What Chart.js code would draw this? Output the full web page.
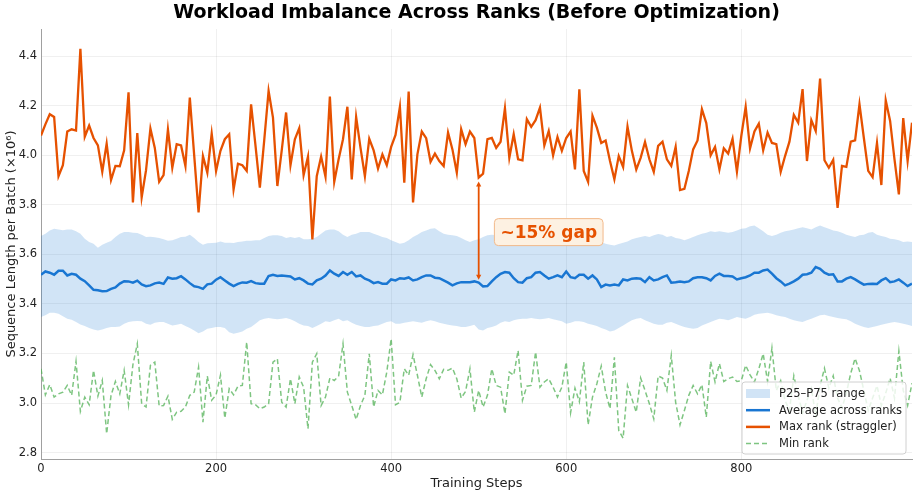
<!DOCTYPE html>
<html>
<head>
<meta charset="utf-8">
<title>Workload Imbalance Across Ranks</title>
<script src="https://cdn.jsdelivr.net/npm/chart.js@4.4.1/dist/chart.umd.min.js"></script>
<style>
  html, body { margin: 0; padding: 0; background: #fff; }
  #wrap { width: 915px; height: 493px; }
</style>
</head>
<body>
<div id="wrap"><canvas id="chart" width="915" height="493"></canvas></div>
<script>
// values, one sample every 5 training steps (0..995)
const maxRank = [
  4.080, 4.125, 4.166, 4.155, 3.916, 3.960, 4.096, 4.105, 4.100, 4.430,
  4.075, 4.120, 4.070, 4.040, 3.934, 4.047, 3.900, 3.957, 3.956, 4.020,
  4.254, 3.810, 4.090, 3.830, 3.940, 4.108, 4.030, 3.893, 3.920, 4.104,
  3.950, 4.045, 4.040, 3.957, 4.233, 4.000, 3.770, 3.997, 3.930, 4.088,
  3.937, 4.018, 4.065, 4.085, 3.862, 3.966, 3.960, 3.937, 4.206, 4.040,
  3.870, 4.060, 4.260, 4.152, 3.876, 4.020, 4.173, 3.960, 4.065, 4.110,
  3.920, 3.995, 3.660, 3.916, 3.995, 3.914, 4.237, 3.893, 3.984, 4.065,
  4.196, 3.903, 4.155, 4.030, 3.916, 4.067, 4.020, 3.946, 4.004, 3.960,
  4.034, 4.082, 4.196, 3.890, 4.257, 3.810, 4.004, 4.096, 4.069, 3.974,
  4.007, 3.977, 3.957, 4.092, 4.024, 3.930, 4.105, 4.045, 4.096, 4.070,
  3.910, 3.926, 4.065, 4.070, 4.030, 4.055, 4.190, 3.990, 4.085, 3.984,
  3.980, 4.146, 4.115, 4.142, 4.193, 4.040, 4.098, 4.000, 4.074, 4.018,
  4.070, 4.096, 3.943, 4.267, 3.937, 3.893, 4.160, 4.112, 4.050, 4.060,
  3.977, 3.903, 3.997, 3.953, 4.116, 4.018, 3.943, 3.990, 4.054, 3.984,
  3.933, 4.038, 4.055, 3.984, 3.957, 4.034, 3.860, 3.865, 3.937, 4.024,
  4.060, 4.186, 4.130, 4.000, 4.034, 3.943, 4.028, 4.007, 4.067, 3.934,
  4.078, 4.196, 4.028, 4.096, 4.128, 4.020, 4.092, 4.050, 4.045, 3.933,
  3.997, 4.055, 4.163, 4.132, 4.267, 3.977, 4.142, 4.098, 4.310, 3.980,
  3.950, 3.982, 3.788, 3.957, 3.953, 4.055, 4.060, 4.206, 4.070, 3.937,
  3.912, 4.050, 3.880, 4.222, 4.139, 3.984, 3.842, 4.150, 3.977, 4.132
];
const avgRank = [
  3.518, 3.531, 3.526, 3.518, 3.534, 3.534, 3.515, 3.522, 3.518, 3.502,
  3.492, 3.475, 3.457, 3.455, 3.451, 3.452, 3.461, 3.467, 3.482, 3.492,
  3.491, 3.486, 3.494, 3.479, 3.472, 3.475, 3.483, 3.486, 3.481, 3.507,
  3.502, 3.504, 3.512, 3.499, 3.484, 3.471, 3.468, 3.461, 3.479, 3.482,
  3.498, 3.508, 3.495, 3.482, 3.472, 3.481, 3.487, 3.486, 3.492, 3.484,
  3.482, 3.482, 3.513, 3.518, 3.513, 3.515, 3.513, 3.511, 3.499, 3.504,
  3.495, 3.482, 3.479, 3.495, 3.502, 3.515, 3.535, 3.522, 3.513, 3.529,
  3.518, 3.529, 3.511, 3.515, 3.502, 3.495, 3.484, 3.488, 3.482, 3.482,
  3.499, 3.495, 3.504, 3.502, 3.507, 3.495, 3.499, 3.508, 3.515, 3.515,
  3.506, 3.504, 3.495, 3.486, 3.475, 3.483, 3.488, 3.488, 3.488, 3.491,
  3.486, 3.471, 3.472, 3.491, 3.508, 3.522, 3.529, 3.526, 3.504, 3.488,
  3.486, 3.504, 3.508, 3.526, 3.529, 3.515, 3.502, 3.508, 3.515, 3.508,
  3.531, 3.508, 3.504, 3.518, 3.518, 3.502, 3.515, 3.499, 3.468, 3.478,
  3.475, 3.478, 3.475, 3.499, 3.495, 3.502, 3.504, 3.502, 3.488, 3.508,
  3.495, 3.499, 3.508, 3.515, 3.486, 3.488, 3.491, 3.488, 3.491, 3.504,
  3.508, 3.508, 3.504, 3.495, 3.513, 3.522, 3.513, 3.513, 3.511, 3.499,
  3.504, 3.508, 3.515, 3.526, 3.526, 3.535, 3.539, 3.522, 3.504, 3.491,
  3.475, 3.482, 3.491, 3.502, 3.518, 3.520, 3.526, 3.549, 3.542, 3.526,
  3.518, 3.520, 3.491, 3.491, 3.502, 3.508, 3.499, 3.488, 3.478, 3.481,
  3.482, 3.481, 3.495, 3.504, 3.488, 3.491, 3.499, 3.486, 3.472, 3.482
];
const p75Rank = [
  3.674, 3.683, 3.697, 3.704, 3.701, 3.698, 3.701, 3.701, 3.693, 3.683,
  3.663, 3.650, 3.643, 3.627, 3.639, 3.647, 3.654, 3.670, 3.683, 3.690,
  3.690, 3.687, 3.686, 3.679, 3.670, 3.671, 3.669, 3.666, 3.661, 3.655,
  3.657, 3.663, 3.670, 3.671, 3.679, 3.666, 3.650, 3.639, 3.645, 3.646,
  3.647, 3.652, 3.647, 3.647, 3.646, 3.650, 3.652, 3.655, 3.655, 3.657,
  3.657, 3.666, 3.674, 3.677, 3.677, 3.674, 3.666, 3.670, 3.666, 3.670,
  3.661, 3.661, 3.663, 3.670, 3.683, 3.697, 3.701, 3.701, 3.693, 3.679,
  3.670, 3.679, 3.683, 3.690, 3.690, 3.690, 3.683, 3.677, 3.670, 3.666,
  3.657, 3.650, 3.643, 3.647, 3.657, 3.670, 3.679, 3.690, 3.697, 3.704,
  3.706, 3.693, 3.683, 3.679, 3.677, 3.674, 3.666, 3.657, 3.650, 3.657,
  3.661, 3.670, 3.677, 3.679, 3.677, 3.670, 3.663, 3.661, 3.666, 3.670,
  3.677, 3.679, 3.674, 3.670, 3.663, 3.666, 3.674, 3.679, 3.677, 3.670,
  3.666, 3.663, 3.666, 3.670, 3.674, 3.670, 3.663, 3.657, 3.650, 3.643,
  3.639, 3.636, 3.642, 3.647, 3.652, 3.661, 3.666, 3.670, 3.674, 3.670,
  3.677, 3.682, 3.679, 3.670, 3.674, 3.666, 3.663, 3.657, 3.663, 3.670,
  3.677, 3.683, 3.687, 3.693, 3.690, 3.693, 3.690, 3.687, 3.690, 3.697,
  3.704, 3.706, 3.714, 3.717, 3.706, 3.693, 3.679, 3.674, 3.679, 3.687,
  3.693, 3.697, 3.701, 3.706, 3.710, 3.706, 3.701, 3.710, 3.717, 3.710,
  3.704, 3.697, 3.693, 3.687, 3.679, 3.674, 3.670, 3.677, 3.679, 3.687,
  3.690, 3.679, 3.674, 3.670, 3.663, 3.661, 3.657, 3.650, 3.652, 3.650
];
const p25Rank = [
  3.347, 3.354, 3.364, 3.364, 3.360, 3.350, 3.340, 3.336, 3.327, 3.317,
  3.311, 3.303, 3.297, 3.293, 3.297, 3.303, 3.307, 3.307, 3.309, 3.320,
  3.327, 3.330, 3.331, 3.330, 3.320, 3.316, 3.324, 3.327, 3.327, 3.320,
  3.313, 3.316, 3.320, 3.311, 3.303, 3.293, 3.282, 3.289, 3.300, 3.303,
  3.307, 3.307, 3.303, 3.286, 3.280, 3.284, 3.289, 3.300, 3.307, 3.320,
  3.334, 3.340, 3.343, 3.340, 3.338, 3.340, 3.343, 3.338, 3.330, 3.320,
  3.313, 3.311, 3.303, 3.311, 3.320, 3.330, 3.327, 3.334, 3.340, 3.330,
  3.334, 3.324, 3.316, 3.311, 3.307, 3.307, 3.311, 3.313, 3.320, 3.327,
  3.330, 3.320, 3.320, 3.324, 3.327, 3.330, 3.327, 3.324, 3.330, 3.334,
  3.330, 3.324, 3.320, 3.316, 3.313, 3.311, 3.307, 3.307, 3.311, 3.316,
  3.297, 3.293, 3.303, 3.307, 3.313, 3.324, 3.330, 3.327, 3.334, 3.338,
  3.340, 3.340, 3.343, 3.340, 3.338, 3.340, 3.343, 3.338, 3.334, 3.330,
  3.320, 3.324, 3.330, 3.330, 3.327, 3.320, 3.316, 3.311, 3.303, 3.297,
  3.289, 3.293, 3.303, 3.313, 3.324, 3.334, 3.340, 3.343, 3.334, 3.327,
  3.320, 3.316, 3.316, 3.324, 3.327, 3.320, 3.313, 3.307, 3.303, 3.300,
  3.303, 3.313, 3.320, 3.327, 3.334, 3.340, 3.338, 3.334, 3.340, 3.347,
  3.343, 3.340, 3.347, 3.356, 3.360, 3.362, 3.364, 3.360, 3.354, 3.350,
  3.347, 3.340, 3.334, 3.330, 3.327, 3.334, 3.340, 3.347, 3.354, 3.356,
  3.351, 3.347, 3.343, 3.340, 3.338, 3.330, 3.320, 3.313, 3.307, 3.303,
  3.307, 3.311, 3.316, 3.320, 3.324, 3.327, 3.324, 3.320, 3.316, 3.311
];
const minRank = [
  3.138, 3.033, 3.074, 3.024, 3.037, 3.044, 3.071, 3.031, 3.168, 2.966,
  3.024, 2.993, 3.132, 3.028, 3.091, 2.876, 3.031, 3.087, 3.037, 3.132,
  2.993, 3.155, 3.239, 2.997, 2.984, 3.152, 3.165, 2.988, 2.990, 3.028,
  2.934, 2.963, 2.967, 2.984, 3.031, 3.044, 3.145, 2.923, 3.109, 3.011,
  3.033, 3.112, 2.939, 3.058, 3.033, 3.068, 3.071, 3.246, 2.997, 2.993,
  2.977, 2.984, 2.997, 3.165, 3.179, 3.003, 2.984, 3.098, 2.997, 3.105,
  3.064, 2.896, 3.165, 3.199, 2.990, 3.024, 3.101, 3.091, 3.109, 3.239,
  3.044, 2.990, 2.934, 2.990, 3.031, 3.199, 2.984, 3.051, 3.033, 3.125,
  3.259, 2.993, 3.003, 3.138, 3.112, 3.195, 3.112, 3.024, 3.098, 3.155,
  3.132, 3.098, 3.136, 3.132, 3.141, 3.098, 3.020, 3.047, 3.138, 2.963,
  3.051, 2.984, 3.031, 3.138, 3.071, 3.064, 2.957, 3.125, 3.112, 3.212,
  3.011, 3.068, 3.071, 3.206, 3.064, 3.085, 3.098, 3.064, 3.024, 3.064,
  3.165, 2.961, 3.060, 3.005, 3.165, 2.912, 3.024, 3.078, 3.149, 3.044,
  2.977, 3.185, 2.889, 2.858, 3.071, 3.017, 2.963, 3.101, 3.051, 2.997,
  2.936, 3.109, 3.101, 3.051, 3.192, 3.003, 2.912, 2.970, 3.031, 3.071,
  3.037, 3.074, 2.943, 3.168, 3.085, 3.159, 3.087, 3.098, 3.105, 3.087,
  3.090, 3.152, 3.114, 3.085, 3.138, 3.199, 3.087, 3.222, 3.050, 3.090,
  3.010, 2.970, 3.110, 3.030, 2.960, 3.010, 3.060, 2.950, 3.070, 3.140,
  3.060, 3.110, 3.020, 2.980, 3.040, 3.120, 3.180, 3.130, 3.050, 2.970,
  3.020, 3.070, 2.990, 3.040, 3.100, 3.020, 3.210, 3.050, 2.990, 3.080
];
const STEP = 5;
const steps = maxRank.map((_, i) => i * STEP);

const xTicks = [0, 200, 400, 600, 800];
const yTicks = [2.8, 3.0, 3.2, 3.4, 3.6, 3.8, 4.0, 4.2, 4.4];

// "~15% gap" callout: arrow at this step, label centred at this data point
const GAP_STEP = 500;
const GAP_TEXT = '~15% gap';
const GAP_LABEL_AT = [580, 3.69];

const FONT = '"DejaVu Sans", "Liberation Sans", sans-serif';
const ORANGE = '#e65100';
const BLUE = '#1976d2';
const BAND = 'rgba(25, 118, 210, 0.2)';
const GREEN = 'rgba(76, 175, 80, 0.72)';

const pts = (arr) => arr.map((v, i) => ({ x: steps[i], y: v }));

// arrow + boxed label between straggler and average
const gapNote = {
  id: 'gapNote',
  afterDatasetsDraw(chart) {
    const { ctx, scales: { x, y } } = chart;
    const i = steps.indexOf(GAP_STEP);
    const px = x.getPixelForValue(GAP_STEP);
    const yTop = y.getPixelForValue(maxRank[i]) + 4;
    const yBot = y.getPixelForValue(avgRank[i]) - 3;

    ctx.save();
    ctx.strokeStyle = ORANGE;
    ctx.fillStyle = ORANGE;
    ctx.lineWidth = 1.8;
    ctx.beginPath();
    ctx.moveTo(px, yTop + 3);
    ctx.lineTo(px, yBot - 3);
    ctx.stroke();
    // small heads at both ends
    ctx.beginPath();
    ctx.moveTo(px, yTop);
    ctx.lineTo(px - 2.6, yTop + 5);
    ctx.lineTo(px + 2.6, yTop + 5);
    ctx.closePath();
    ctx.fill();
    ctx.beginPath();
    ctx.moveTo(px, yBot);
    ctx.lineTo(px - 2.6, yBot - 5);
    ctx.lineTo(px + 2.6, yBot - 5);
    ctx.closePath();
    ctx.fill();

    const lx = x.getPixelForValue(GAP_LABEL_AT[0]);
    const ly = y.getPixelForValue(GAP_LABEL_AT[1]);
    ctx.font = 'bold 17px ' + FONT;
    const tw = ctx.measureText(GAP_TEXT).width;
    const bw = tw + 12, bh = 27;
    ctx.beginPath();
    ctx.roundRect(lx - bw / 2, ly - bh / 2, bw, bh, 4);
    ctx.fillStyle = '#fdf1e2';
    ctx.fill();
    ctx.strokeStyle = '#f2b98a';
    ctx.lineWidth = 1;
    ctx.stroke();
    ctx.fillStyle = ORANGE;
    ctx.textAlign = 'center';
    ctx.textBaseline = 'middle';
    ctx.fillText(GAP_TEXT, lx, ly + 1);
    ctx.restore();
  }
};

// matplotlib-style legend in the lower right of the plot
const cornerLegend = {
  id: 'cornerLegend',
  afterDraw(chart) {
    const { ctx, chartArea } = chart;
    const w = 164, h = 72;
    const x0 = chartArea.right - 6 - w;
    const y0 = chartArea.bottom - 5 - h;
    ctx.save();
    ctx.beginPath();
    ctx.roundRect(x0, y0, w, h, 3);
    ctx.fillStyle = 'rgba(255,255,255,0.82)';
    ctx.fill();
    ctx.strokeStyle = '#d0d0d0';
    ctx.lineWidth = 1;
    ctx.stroke();

    const rows = ['P25–P75 range', 'Average across ranks', 'Max rank (straggler)', 'Min rank'];
    ctx.font = '11.5px ' + FONT;
    ctx.textBaseline = 'middle';
    rows.forEach((label, r) => {
      const cy = y0 + 11.5 + r * 16.7;
      const hx = x0 + 4;
      if (r === 0) {
        ctx.fillStyle = BAND;
        ctx.fillRect(hx, cy - 4.5, 24, 9);
      } else {
        ctx.beginPath();
        ctx.moveTo(hx, cy);
        ctx.lineTo(hx + 24, cy);
        if (r === 3) {
          ctx.strokeStyle = GREEN;
          ctx.lineWidth = 1.5;
          ctx.setLineDash([5, 3]);
        } else {
          ctx.strokeStyle = r === 1 ? BLUE : ORANGE;
          ctx.lineWidth = 2.5;
          ctx.setLineDash([]);
        }
        ctx.stroke();
        ctx.setLineDash([]);
      }
      ctx.fillStyle = '#222';
      ctx.fillText(label, x0 + 37, cy + 0.5);
    });
    ctx.restore();
  }
};

const ctx = document.getElementById('chart').getContext('2d');
new Chart(ctx, {
  type: 'line',
  data: {
    datasets: [
      {
        label: 'P75',
        data: pts(p75Rank),
        borderWidth: 0,
        pointRadius: 0,
        backgroundColor: BAND,
        fill: '+1',
        order: 10
      },
      {
        label: 'P25–P75 range',
        data: pts(p25Rank),
        borderWidth: 0,
        pointRadius: 0,
        backgroundColor: BAND,
        fill: false,
        order: 11
      },
      {
        label: 'Min rank',
        data: pts(minRank),
        borderColor: GREEN,
        borderWidth: 1.5,
        borderDash: [5, 3],
        pointRadius: 0,
        fill: false,
        order: 3
      },
      {
        label: 'Average across ranks',
        data: pts(avgRank),
        borderColor: BLUE,
        borderWidth: 2.5,
        pointRadius: 0,
        fill: false,
        order: 2
      },
      {
        label: 'Max rank (straggler)',
        data: pts(maxRank),
        borderColor: ORANGE,
        borderWidth: 2.3,
        pointRadius: 0,
        fill: false,
        order: 1
      }
    ]
  },
  options: {
    responsive: false,
    animation: false,
    layout: { padding: { left: 0, right: 3, top: 0, bottom: 0 } },
    elements: { line: { tension: 0 } },
    plugins: {
      legend: { display: false },
      tooltip: { enabled: false },
      title: {
        display: true,
        fullSize: false,
        text: 'Workload Imbalance Across Ranks (Before Optimization)',
        color: '#000',
        font: { family: FONT, size: 19, weight: 'bold' },
        padding: { top: 2, bottom: 4.2 }
      }
    },
    scales: {
      x: {
        type: 'linear',
        min: 0,
        max: steps[steps.length - 1],
        afterBuildTicks: (s) => { s.ticks = xTicks.map(v => ({ value: v })); },
        afterFit: (s) => { s.height = 34; },
        grid: { color: 'rgba(0,0,0,0.06)', drawTicks: false },
        border: { color: '#a0a0a0', width: 1 },
        ticks: { color: '#222', padding: 3, font: { family: FONT, size: 11.5 } },
        title: {
          display: true,
          text: 'Training Steps',
          color: '#222',
          font: { family: FONT, size: 13 },
          padding: { top: 0, bottom: 1.5 }
        }
      },
      y: {
        min: 2.774,
        max: 4.51,
        afterBuildTicks: (s) => { s.ticks = yTicks.map(v => ({ value: v })); },
        afterFit: (s) => { s.width = 41; },
        grid: { color: 'rgba(0,0,0,0.06)', drawTicks: false },
        border: { color: '#a0a0a0', width: 1 },
        ticks: {
          color: '#222',
          padding: 4,
          font: { family: FONT, size: 11.5 },
          callback: (v) => Number(v).toFixed(1)
        },
        title: {
          display: true,
          text: 'Sequence Length per Batch (×10⁶)',
          color: '#222',
          font: { family: FONT, size: 13 },
          padding: { top: 4, bottom: 0 }
        }
      }
    }
  },
  plugins: [gapNote, cornerLegend]
});
</script>
</body>
</html>
